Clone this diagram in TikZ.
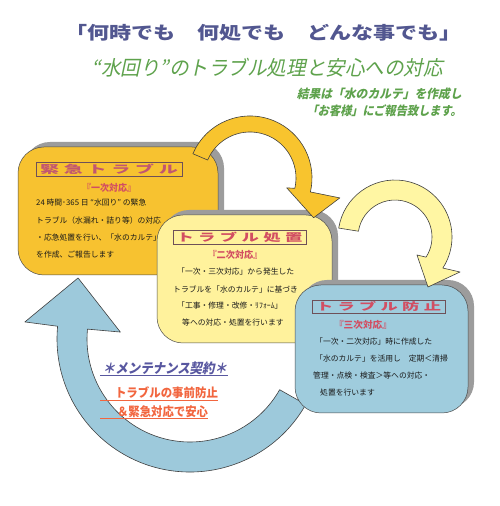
\documentclass[tikz,border=0pt]{standalone}
\usepackage{fontspec}
\usepackage{graphicx}
\usetikzlibrary{calc,shadows}
\newfontfamily\jp{Noto Sans CJK JP}
\newfontfamily\jpsl[FakeSlant=0.22]{Noto Sans CJK JP}
\newcommand\fitbox[3]{\resizebox*{#1pt}{#2pt}{#3}}
\newcommand\chsp{\hspace{2.5pt}}
\definecolor{titleblue}{HTML}{525790}
\definecolor{subgreen}{HTML}{5EA24C}
\definecolor{boxA}{HTML}{F7C230}
\definecolor{boxB}{HTML}{FFF29C}
\definecolor{boxC}{HTML}{9FCCDD}
\definecolor{arrA}{HTML}{F8C42E}
\definecolor{arrB}{HTML}{FFF6A3}
\definecolor{arrC}{HTML}{9DC9DB}
\definecolor{shade}{HTML}{9C9C9C}
\definecolor{ttlred}{HTML}{D24E62}
\definecolor{ttlrose}{HTML}{C25670}
\definecolor{framec}{HTML}{6E5058}
\definecolor{mred}{HTML}{F2663F}
\definecolor{mblue}{HTML}{5857A0}
% center, Ri, Ro, start, end, head inner corner, head outer corner, tip, colour
\newcommand\bandarrow[9]{%
  \filldraw[fill=#9, draw=black!75, line width=0.6pt, line join=round]
    ($(#1)+(#4:#3)$) arc[start angle=#4, end angle=#5, radius=#3]
    -- ($(#1)+(#7)$) -- ($(#1)+(#8)$) -- ($(#1)+(#6)$)
    -- ($(#1)+(#5:#2)$) arc[start angle=#5, end angle=#4, radius=#2] -- cycle;}
\begin{document}
\begin{tikzpicture}[x=1pt,y=1pt,
  panel/.style={rectangle, rounded corners=26pt, draw=black!70, line width=0.5pt, inner sep=0pt,
    drop shadow={shadow xshift=6pt, shadow yshift=5pt, opacity=1, fill=shade}},
  frame/.style={rectangle, draw=framec, line width=0.6pt, inner sep=0pt},
  body/.style={anchor=west, inner sep=0pt, font=\jp\fontsize{7.8}{8}\selectfont, text=black!90},
  lbl/.style={inner sep=0pt}]
\useasboundingbox (0,0) rectangle (500,506);
\fill[white] (0,0) rectangle (500,506);

% titles
\node[lbl] (title) at (263.5,473) {\fitbox{397}{17}{\jp\bfseries\color{titleblue}「何時でも　何処でも　どんな事でも」}};
\node[lbl] (sub) at (267.5,438) {\fitbox{351}{19}{\jpsl\color{subgreen}“水回り”のトラブル処理と安心への対応}};
\node[lbl, anchor=east] (r1) at (462,412) {\fitbox{165}{12}{\jpsl\bfseries\color{subgreen}結果は「水のカルテ」を作成し}};
\node[lbl, anchor=east] (r2) at (462,395) {\fitbox{155}{12}{\jpsl\bfseries\color{subgreen}「お客様」にご報告致します。}};

% big blue arrow
\coordinate (c3) at (190,167);
\bandarrow{c3}{103}{133}{-29.5}{-185.5}{-185.7:70}{-185.9:166}{-208.6:127.5}{arrC}

% panel 1
\node[panel, fill=boxA, minimum width=200, minimum height=128] (p1) at (118,295) {};
\node[frame, minimum width=146, minimum height=14] (f1) at (109,337) {\fitbox{138}{10.5}{\jp\bfseries\color{ttlrose}緊\chsp 急\chsp ト\chsp ラ\chsp ブ\chsp ル}};
\node[lbl] (s1) at (109,318) {\fitbox{54}{9}{\jp\bfseries\color{ttlred}『一次対応』}};
\node[body] (a1) at (36,303) {24 時間･365 日 “水回り” の緊急};
\node[body] (a2) at (36,285) {トラブル（水漏れ・詰り等）の対応};
\node[body] (a3) at (36,268) {・応急処置を行い、「水のカルテ」};
\node[body] (a4) at (36,251) {を作成、ご報告します};

% panel 2
\node[panel, fill=boxB, minimum width=175, minimum height=128] (p2) at (244.5,227) {};
\node[frame, minimum width=133, minimum height=14] (f2) at (239.5,269) {\fitbox{126}{10.5}{\jp\bfseries\color{ttlred}ト\chsp ラ\chsp ブ\chsp ル\chsp 処\chsp 置}};
\node[lbl] (s2) at (235,251) {\fitbox{55}{9}{\jp\bfseries\color{ttlred}『二次対応』}};
\node[body] (b1) at (177,234) {「一次・三次対応」から発生した};
\node[body] (b2) at (173,217) {トラブルを「水のカルテ」に基づき};
\node[body] (b3) at (177,200) {「工事・修理・改修・ﾘﾌｫｰﾑ」};
\node[body] (b4) at (182,183) {等への対応・処置を行います};

% panel 3
\node[panel, fill=boxC, minimum width=173, minimum height=128] (p3) at (381.5,157) {};
\node[frame, minimum width=133, minimum height=13] (f3) at (378.5,199.5) {\fitbox{125}{10}{\jp\bfseries\color{ttlred}ト\chsp ラ\chsp ブ\chsp ル\chsp 防\chsp 止}};
\node[lbl] (s3) at (363,181) {\fitbox{58}{9}{\jp\bfseries\color{ttlred}『三次対応』}};
\node[body] (d1) at (315,164) {「一次・二次対応」時に作成した};
\node[body] (d2) at (315,147) {「水のカルテ」を活用し　定期＜清掃};
\node[body] (d3) at (313,130) {管理・点検・検査＞等への対応・};
\node[body] (d4) at (320,113) {処置を行います};

% yellow arrows
\coordinate (c1) at (250,328);
\bandarrow{c1}{46}{62}{157}{-13}{-15:38}{-12.5:92}{-32:75}{arrA}
\coordinate (c2) at (395,269);
\bandarrow{c2}{37}{57}{171}{-33}{-39.3:28.4}{-28.3:73.8}{-56.6:59.9}{arrB}

% maintenance text
\node[lbl] (m1) at (165,138) {\fitbox{124}{13}{\jpsl\bfseries\color{mblue}＊メンテナンス契約＊}};
\node[lbl] (m2) at (166.5,113) {\fitbox{103}{12}{\jp\bfseries\color{mred}トラブルの事前防止}};
\node[lbl] (m3) at (162.5,94) {\fitbox{91}{12}{\jp\bfseries\color{mred}＆緊急対応で安心}};
\draw[mblue, line width=1pt] (100,130) -- (228,130);
\draw[mred, line width=0.8pt] (100,106) -- (218,106);
\draw[mred, line width=0.8pt] (100,88) -- (208,88);
\end{tikzpicture}
\end{document}
